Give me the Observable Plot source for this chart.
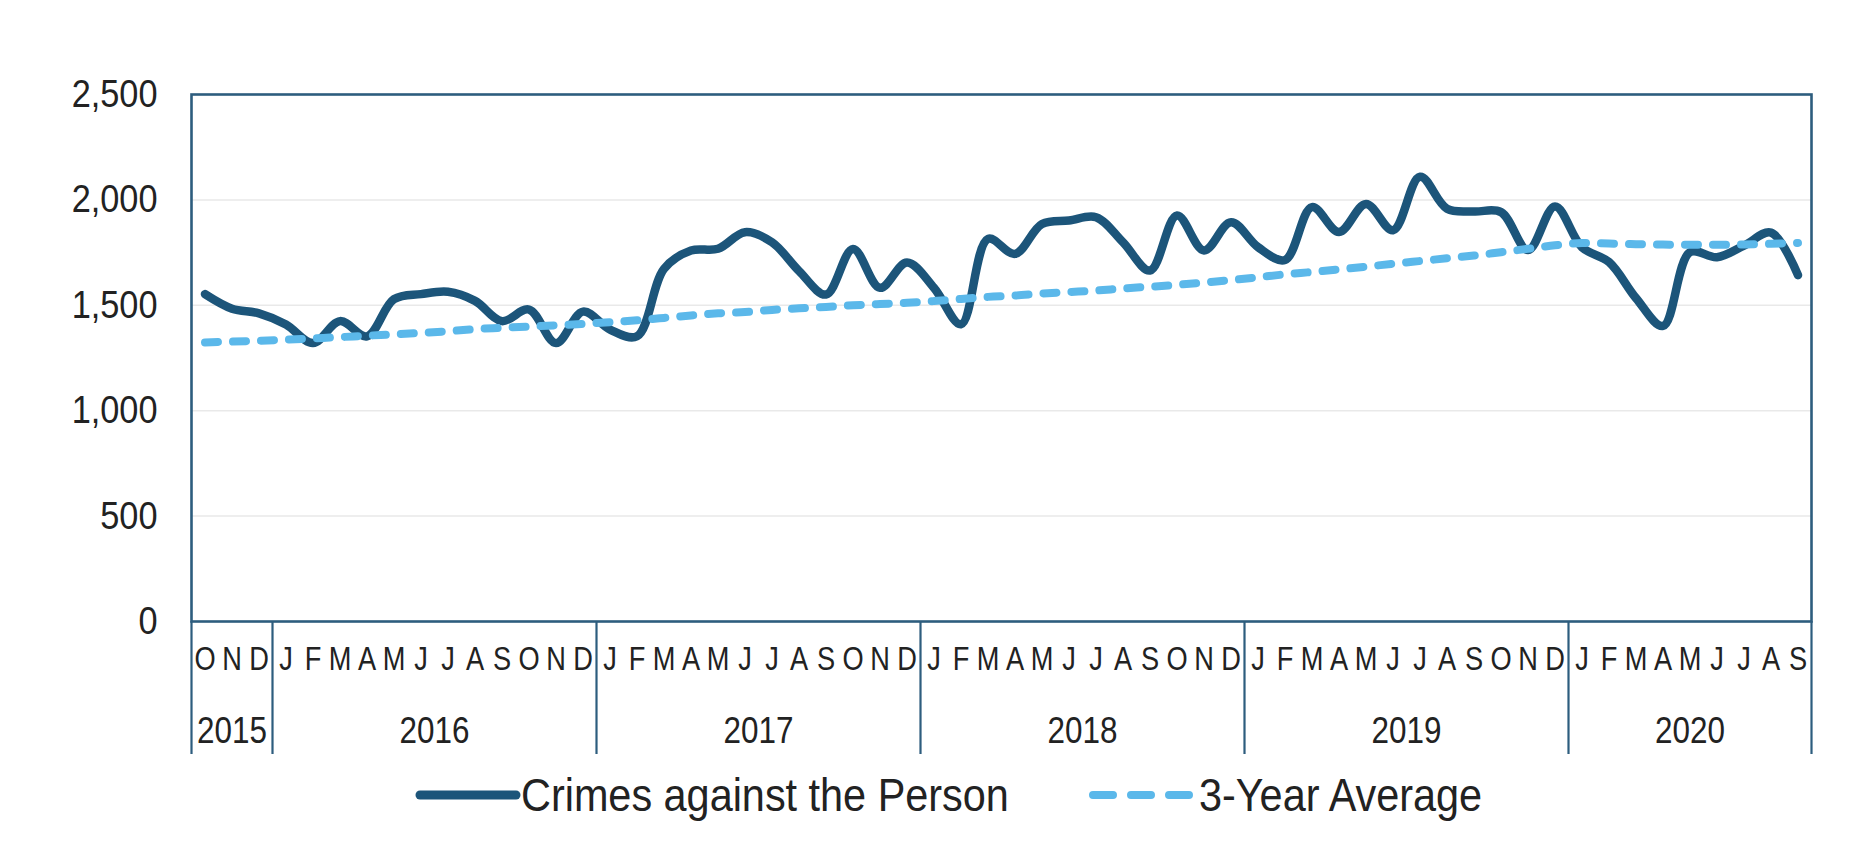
<!DOCTYPE html>
<html>
<head>
<meta charset="utf-8">
<script src="https://cdn.jsdelivr.net/npm/d3@7"></script>
<script src="https://cdn.jsdelivr.net/npm/@observablehq/plot@0.6"></script>
<style>
  html, body { margin: 0; padding: 0; background: #ffffff; }
  body { width: 1870px; height: 853px; overflow: hidden; font-family: "Liberation Sans", Arial, sans-serif; color: #222; position: relative; }
  #legend { position: relative; height: 60px; font-size: 46px; }
  #legend .item { position: absolute; top: 0; height: 60px; display: flex; align-items: center; white-space: nowrap; }
  #legend svg { display: block; }
  #legend span { display: inline-block; transform: scaleX(0.9); transform-origin: left center; }
</style>
</head>
<body>
<div id="chart"></div>
<div id="legend"></div>
<script>
// ---- data ----
const monthLetters = ["J","F","M","A","M","J","J","A","S","O","N","D"];
const yearLabels = [2015, 2016, 2017, 2018, 2019, 2020];
const firstMonth = 9; // October 2015 (0-based month index)
const crimes = [
  1553, 1484, 1462,                                                   // 2015 O-D
  1409, 1321, 1425, 1353, 1529, 1553, 1564, 1521, 1425, 1480, 1321, 1470, // 2016
  1385, 1353, 1673, 1760, 1768, 1847, 1799, 1663, 1551, 1767, 1583, 1703, // 2017
  1583, 1410, 1815, 1744, 1886, 1902, 1918, 1799, 1665, 1926, 1760, 1894, // 2018
  1776, 1715, 1966, 1848, 1981, 1856, 2110, 1958, 1945, 1942, 1762, 1969, // 2019
  1775, 1705, 1534, 1402, 1752, 1728, 1783, 1845, 1643                    // 2020 J-S
];
const threeYearAvg = [
  1324, 1328, 1332,
  1337, 1343, 1349, 1356, 1362, 1369, 1377, 1387, 1393, 1399, 1405, 1412,
  1420, 1429, 1440, 1452, 1462, 1468, 1478, 1486, 1492, 1500, 1506, 1512,
  1520, 1530, 1540, 1546, 1556, 1563, 1570, 1580, 1588, 1597, 1608, 1620,
  1633, 1647, 1658, 1670, 1683, 1697, 1710, 1723, 1736, 1752, 1768, 1785,
  1795, 1793, 1790, 1788, 1787, 1787, 1789, 1792, 1796
];
const seriesNames = ["Crimes against the Person", "3-Year Average"];
const colors = {solid: "#1c557a", dashed: "#5bb8ea", frame: "#2d5d7e"};

// ---- table ----
const rows = crimes.map((v, i) => {
  const k = firstMonth + i;
  return {i, year: yearLabels[0] + Math.floor(k / 12), month: k % 12, value: v, avg: threeYearAvg[i]};
});
const n = rows.length;
const yearCenters = yearLabels.map(y => d3.mean(rows.filter(r => r.year === y), r => r.i));
const centerToYear = new Map(yearCenters.map((c, j) => [c, yearLabels[j]]));
const boundaries = [-0.5, ...yearLabels.slice(1).map(y => rows.find(r => r.year === y).i - 0.5), n - 0.5];

const chart = Plot.plot({
  width: 1870,
  height: 765,
  marginLeft: 191,
  marginRight: 59,
  marginTop: 94,
  marginBottom: 144,
  style: {fontFamily: "'Liberation Sans', Arial, sans-serif", color: "#222", background: "white", overflow: "visible"},
  x: {type: "linear", domain: [-0.5, n - 0.5]},
  y: {domain: [0, 2500]},
  marks: [
    Plot.gridY([500, 1000, 1500, 2000], {stroke: "#e9e9e9", strokeOpacity: 1, strokeWidth: 1.5}),
    Plot.axisY([0, 500, 1000, 1500, 2000, 2500], {tickSize: 0, tickPadding: 34, fontSize: 39, tickFormat: d3.format(","), label: null}),
    Plot.axisX(rows.map(r => r.i), {tickSize: 0, tickPadding: 24, fontSize: 34, tickFormat: i => monthLetters[rows[i].month], label: null}),
    Plot.axisX(yearCenters, {tickSize: 0, tickPadding: 95, fontSize: 37, tickFormat: c => String(centerToYear.get(c)), label: null}),
    Plot.axisX(boundaries, {tickSize: 133, stroke: colors.frame, strokeWidth: 2.2, strokeOpacity: 1, tickFormat: () => "", label: null}),
    Plot.frame({stroke: colors.frame, strokeWidth: 2.6}),
    Plot.line(rows, {x: "i", y: "value", stroke: colors.solid, strokeWidth: 8.5, curve: "catmull-rom", strokeLinecap: "round", strokeLinejoin: "round"}),
    Plot.line(rows, {x: "i", y: "avg", stroke: colors.dashed, strokeWidth: 8, curve: "catmull-rom", strokeDasharray: "13,15", strokeLinecap: "round"})
  ]
});
document.getElementById("chart").appendChild(chart);

// condense tick label glyphs horizontally (the reference uses a narrow face)
function squeeze(sel, k) {
  sel.each(function() {
    const t = this.getAttribute("transform") || "";
    this.setAttribute("transform", t + ` scale(${k},1)`);
  });
}
const svg = d3.select(chart);
squeeze(svg.selectAll('g[aria-label="y-axis tick label"] text'), 0.88);
const xLabelGroups = svg.selectAll('g[aria-label="x-axis tick label"]').nodes();
if (xLabelGroups[0]) squeeze(d3.select(xLabelGroups[0]).selectAll("text"), 0.8);
if (xLabelGroups[1]) squeeze(d3.select(xLabelGroups[1]).selectAll("text"), 0.85);

// ---- legend ----
const legend = d3.select("#legend");
const item1 = legend.append("div").attr("class", "item").style("left", "415px");
const s1 = item1.append("svg").attr("width", 106).attr("height", 20);
s1.append("line").attr("x1", 5).attr("x2", 101).attr("y1", 10).attr("y2", 10)
  .attr("stroke", colors.solid).attr("stroke-width", 9).attr("stroke-linecap", "round");
item1.append("span").text(seriesNames[0]);
const item2 = legend.append("div").attr("class", "item").style("left", "1088px");
const s2 = item2.append("svg").attr("width", 111).attr("height", 20);
s2.append("line").attr("x1", 5).attr("x2", 101).attr("y1", 10).attr("y2", 10)
  .attr("stroke", colors.dashed).attr("stroke-width", 8).attr("stroke-linecap", "round").attr("stroke-dasharray", "20,18");
item2.append("span").text(seriesNames[1]);
</script>
</body>
</html>
